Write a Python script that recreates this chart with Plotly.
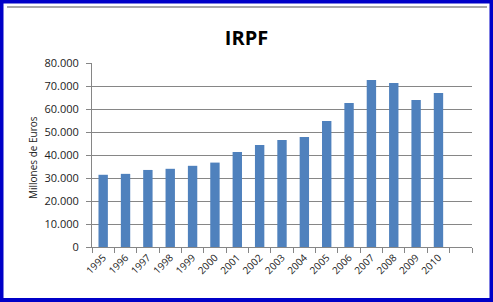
import plotly.graph_objects as go

years = ["1995", "1996", "1997", "1998", "1999", "2000", "2001", "2002",
         "2003", "2004", "2005", "2006", "2007", "2008", "2009", "2010"]
values = [31400, 31800, 33500, 34000, 35300, 36700, 41300, 44400,
          46500, 47800, 54800, 62600, 72600, 71300, 63900, 67000]
y_ticks = [0, 10000, 20000, 30000, 40000, 50000, 60000, 70000, 80000]

# one trailing empty category slot, as in the reference
cats = years + [" "]
vals = values + [None]

W, H = 493, 302
ML, MR, MT, MB = 92, 21, 63, 55
PW, PH = W - ML - MR, H - MT - MB

def px(x):
    return (x - ML) / PW

def py(y):
    return (H - MB - y) / PH

fig = go.Figure(go.Bar(x=cats, y=vals, marker=dict(color="#4F81BD", line=dict(width=0)),
                       width=0.42))

fig.update_layout(
    width=W, height=H,
    margin=dict(l=ML, r=MR, t=MT, b=MB, pad=0),
    paper_bgcolor="white", plot_bgcolor="white",
    separators=",.",
    showlegend=False,
    font=dict(family="Open Sans, Liberation Sans, sans-serif", color="#222"),
    title=dict(text="<b>IRPF</b>", x=0.5, xanchor="center", xref="container",
               y=1 - 38 / H, yanchor="middle", yref="container",
               font=dict(size=20, color="black", family="Open Sans, sans-serif")),
    xaxis=dict(type="category", tickson="boundaries", ticks="outside", ticklen=5,
               tickcolor="#868686", showline=True, linecolor="#868686", linewidth=1,
               showgrid=False, tickangle=-45, tickfont=dict(size=10, color="#222"),
               range=[-0.5, 16.5]),
    yaxis=dict(range=[0, 80000], tickvals=y_ticks, tickformat=",d", ticks="outside",
               ticklen=5, tickcolor="#868686", showline=True, linecolor="#868686",
               linewidth=1, showgrid=True, gridcolor="#868686", gridwidth=1,
               tickfont=dict(size=11, color="#222"), zeroline=False,
               ticklabelstandoff=5),
    annotations=[dict(text="Millones de Euros", textangle=-90, x=px(33), y=py(157),
                      xref="paper", yref="paper", xanchor="center", yanchor="middle",
                      showarrow=False, font=dict(size=10, color="#222"))],
    shapes=[
        dict(type="line", xref="paper", yref="paper", x0=px(7), x1=px(487),
             y0=py(7), y1=py(7), line=dict(color="#8C8C8C", width=1.5)),
        dict(type="rect", xref="paper", yref="paper", x0=px(1.5), x1=px(491.5),
             y0=py(1.5), y1=py(300), line=dict(color="#0000C8", width=4)),
    ],
)

fig.write_html("out.html")
